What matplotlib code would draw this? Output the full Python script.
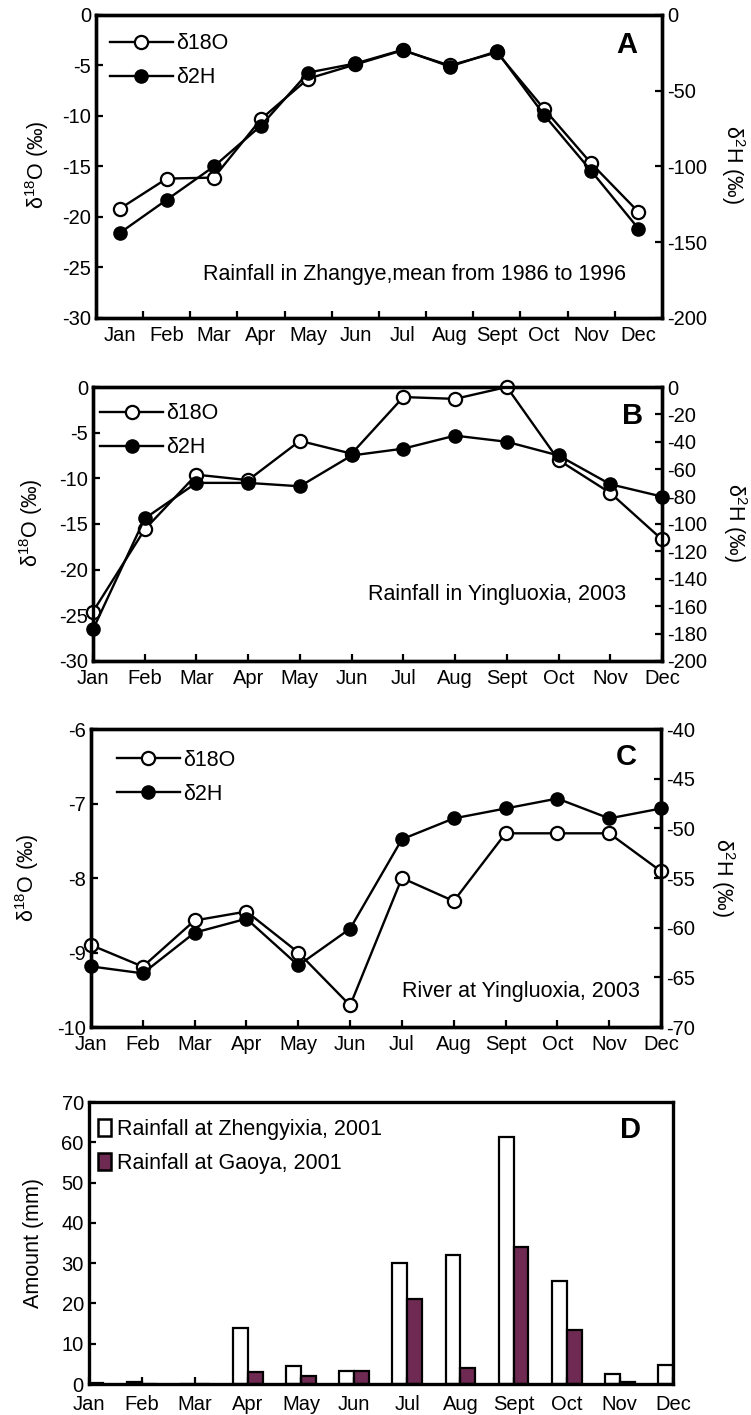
import matplotlib
matplotlib.use("Agg")
import matplotlib.pyplot as plt
from matplotlib.patches import Patch
import numpy as np

plt.rcParams['font.family'] = ['Liberation Sans', 'DejaVu Sans']
plt.rcParams['mathtext.default'] = 'regular'
plt.rcParams['axes.unicode_minus'] = False

months = ["Jan", "Feb", "Mar", "Apr", "May", "Jun", "Jul", "Aug", "Sept", "Oct", "Nov", "Dec"]

# Panel A: rainfall in Zhangye, mean 1986-1996
a_d18o = [-19.2, -16.2, -16.1, -10.3, -6.3, -4.9, -3.5, -5.0, -3.7, -9.3, -14.7, -19.5]
a_d2h = [-144, -122, -100, -73, -38, -32, -23, -34, -24, -66, -103, -141]

# Panel B: rainfall in Yingluoxia, 2003
b_d18o = [-24.6, -15.6, -9.6, -10.2, -5.9, -7.3, -1.1, -1.3, 0.0, -8.0, -11.6, -16.7]
b_d2h = [-177, -96, -70, -70, -72.5, -50, -45, -35.5, -40, -50, -71, -80]

# Panel C: river at Yingluoxia, 2003
c_d18o = [-8.90, -9.19, -8.57, -8.45, -9.00, -9.71, -8.00, -8.31, -7.40, -7.40, -7.40, -7.91]
c_d2h = [-63.9, -64.6, -60.5, -59.1, -63.8, -60.1, -51.1, -49.0, -48.0, -47.0, -49.0, -48.0]

# Panel D: rainfall amount, 2001
zhengyixia = [0.0, 0.5, 0.0, 13.8, 4.5, 3.2, 30.1, 31.9, 61.4, 25.6, 2.6, 4.7]
gaoya = [0.3, 0.0, 0.0, 2.9, 1.9, 3.2, 21.2, 4.0, 34.0, 13.3, 0.5, 0.0]

purple = "#6e2a52"
fs_tick = 14.5
fs_text = 15.5
lw = 1.7
ms = 9.5
spine_w = 2.4

fig = plt.figure(figsize=(7.51, 14.15), dpi=100)


def style_axes(ax):
    for s in ax.spines.values():
        s.set_linewidth(spine_w)
    ax.tick_params(direction="in", width=1.6, length=5, labelsize=fs_tick)


def isotope_panel(rect, d18o, d2h, ylim1, yticks1, ylim2, yticks2, x, xlim,
                  letter, letter_pos, note, note_pos, leg_pos, lab_pos, between=False):
    ax = fig.add_axes(rect)
    ax2 = ax.twinx()
    style_axes(ax)
    style_axes(ax2)
    l1, = ax.plot(x, d18o, color="black", lw=lw, marker="o", ms=ms,
                  mfc="white", mec="black", mew=1.6, clip_on=False, zorder=3)
    l2, = ax2.plot(x, d2h, color="black", lw=lw, marker="o", ms=ms,
                   mfc="black", mec="black", clip_on=False, zorder=3)
    ax.set_ylim(*ylim1)
    ax.set_yticks(yticks1)
    ax2.set_ylim(*ylim2)
    ax2.set_yticks(yticks2)
    ax.set_xlim(*xlim)
    ax.set_xticks(x)
    ax.set_xticklabels(months)
    if between:
        ax.tick_params(axis="x", which="major", length=0, pad=6)
        ax.set_xticks(np.arange(0.5, 11, 1), minor=True)
        ax.tick_params(axis="x", which="minor", direction="in", width=1.6, length=5)
    else:
        ax.tick_params(axis="x", pad=6)
    ax.set_ylabel("δ$^{18}$O (‰)", fontsize=fs_text, va="center")
    ax.yaxis.set_label_coords(lab_pos[0], lab_pos[2])
    ax2.set_ylabel("δ$^{2}$H (‰)", fontsize=fs_text, rotation=270, va="center")
    ax2.yaxis.set_label_coords(lab_pos[1], lab_pos[2])
    ax2.text(letter_pos[0], letter_pos[1], letter, transform=ax2.transAxes,
             fontsize=21, fontweight="bold", ha="center", va="center")
    ax2.text(note_pos[0], note_pos[1], note, transform=ax2.transAxes,
             fontsize=fs_text, ha="center", va="center")
    ax2.legend([l1, l2], ["δ18O", "δ2H"], loc="upper left", bbox_to_anchor=leg_pos,
               frameon=False, fontsize=fs_text, handlelength=2.9, handletextpad=0.15,
               labelspacing=0.6, borderpad=0, borderaxespad=0)
    return ax, ax2


x = np.arange(12)

isotope_panel([0.1278, 0.7753, 0.7537, 0.2141], a_d18o, a_d2h,
              (-30, 0), np.arange(-30, 1, 5), (-200, 0), np.arange(-200, 1, 50),
              x, (-0.5, 11.5), "A", (0.938, 0.90),
              "Rainfall in Zhangye,mean from 1986 to 1996", (0.562, 0.142),
              (0.025, 0.94), (-0.104, 1.125, 0.505), between=True)

isotope_panel([0.1238, 0.5329, 0.7577, 0.1936], b_d18o, b_d2h,
              (-30, 0), np.arange(-30, 1, 5), (-200, 0), np.arange(-200, 1, 20),
              x, (0, 11), "B", (0.949, 0.894),
              "Rainfall in Yingluoxia, 2003", (0.711, 0.241),
              (0.013, 0.94), (-0.109, 1.128, 0.504))

isotope_panel([0.1212, 0.2742, 0.759, 0.2106], c_d18o, c_d2h,
              (-10, -6), np.arange(-10, -5.9, 1), (-70, -40), np.arange(-70, -39, 5),
              x, (0, 11), "C", (0.939, 0.906),
              "River at Yingluoxia, 2003", (0.754, 0.118),
              (0.046, 0.93), (-0.112, 1.109, 0.5))

# Panel D: bars
axd = fig.add_axes([0.118, 0.0219, 0.778, 0.1993])
style_axes(axd)
bw = 0.28
axd.bar(x - bw / 2, zhengyixia, width=bw, color="white", edgecolor="black", linewidth=1.6)
axd.bar(x + bw / 2, gaoya, width=bw, color=purple, edgecolor="black", linewidth=1.6)
axd.set_xlim(0, 11)
axd.set_ylim(0, 70)
axd.set_yticks(np.arange(0, 71, 10))
axd.set_xticks(x)
axd.set_xticklabels(months)
axd.tick_params(axis="x", pad=8)
axd.tick_params(right=False, top=False)
axd.set_ylabel("Amount (mm)", fontsize=fs_text, va="center")
axd.yaxis.set_label_coords(-0.094, 0.5)
axd.text(0.928, 0.90, "D", transform=axd.transAxes, fontsize=21,
         fontweight="bold", ha="center", va="center")
handles = [Patch(facecolor="white", edgecolor="black", linewidth=1.8),
           Patch(facecolor=purple, edgecolor="black", linewidth=1.8)]
axd.legend(handles, ["Rainfall at Zhengyixia, 2001", "Rainfall at Gaoya, 2001"],
           loc="upper left", bbox_to_anchor=(0.016, 0.94), frameon=False,
           fontsize=fs_text, handlelength=0.6, handleheight=0.8, handletextpad=0.3,
           labelspacing=0.6, borderpad=0, borderaxespad=0)

fig.savefig("out.png", dpi=100)
